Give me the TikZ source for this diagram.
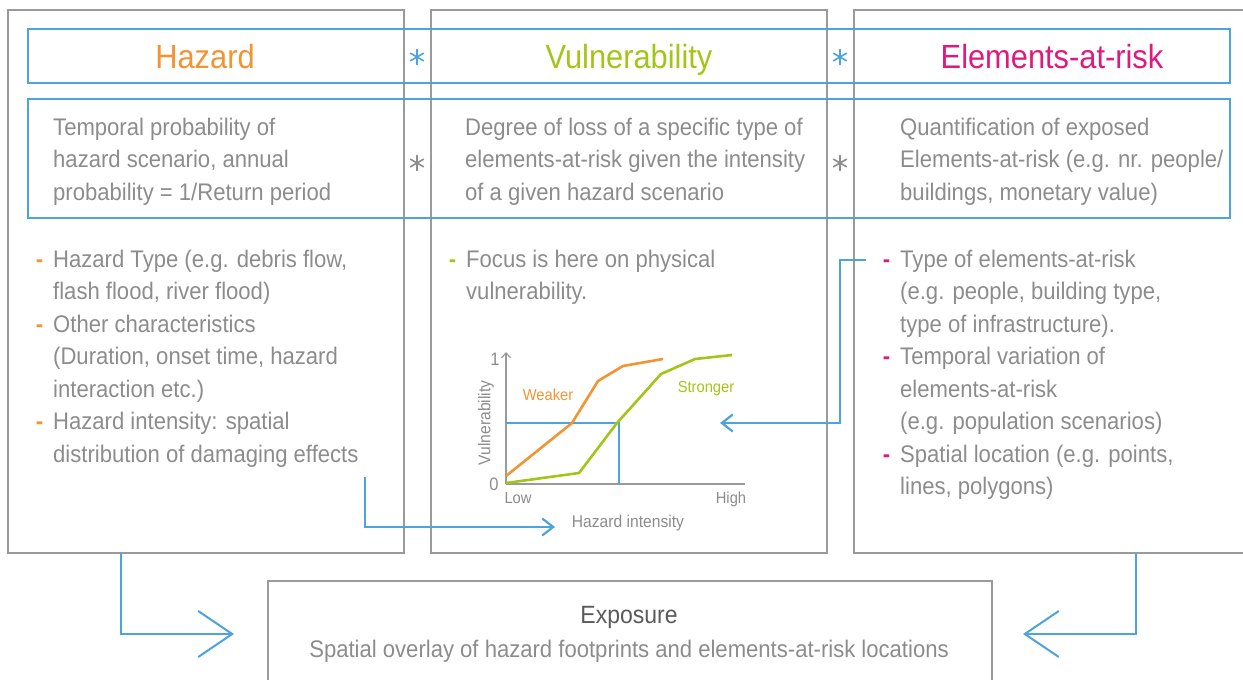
\documentclass[tikz,border=0pt]{standalone}
\usepackage{fontspec}
\setmainfont[FakeStretch=0.92]{Liberation Sans}
\usepackage{tikz}
\usetikzlibrary{arrows.meta}

\definecolor{riskblue}{HTML}{4DA3DC}
\definecolor{hazorange}{HTML}{F39433}
\definecolor{vulgreen}{HTML}{A2C617}
\definecolor{elemmagenta}{HTML}{E0197D}
\definecolor{textgrey}{HTML}{8C8C8C}
\definecolor{linegrey}{HTML}{9A9A9A}
\definecolor{darkgrey}{HTML}{5A5A5A}

\newcommand{\listdash}[1]{\llap{\textcolor{#1}{\bfseries -}\hspace{10pt}}}

\tikzset{
	colbox/.style={draw=linegrey, line width=1.3pt, minimum width=396pt, minimum height=543pt, inner sep=0pt},
	band/.style={draw=riskblue, line width=2.8pt, minimum width=1202pt, inner sep=0pt},
	title/.style={anchor=base, inner sep=0pt, font=\fontsize{33.5}{40}\selectfont},
	bodytext/.style={anchor=base west, align=left, inner sep=0pt, text=textgrey, font=\fontsize{24}{32.5}\selectfont},
	starline/.style={line width=1.6pt, line cap=round},
	charttext/.style={inner sep=0pt, text=textgrey, font=\fontsize{16}{18}\selectfont},
	bluearrow/.style={draw=riskblue, line width=2.5pt, -{Straight Barb[length=11pt, width=17pt, line width=2.2pt]}},
	bigarrow/.style={draw=riskblue, line width=2.8pt, -{Straight Barb[length=34pt, width=46pt, line width=2pt]}}
}

\begin{document}
\begin{tikzpicture}[x=1pt, y=-1pt]
	\useasboundingbox (0,0) rectangle (1243,680);
	\clip (0,0) rectangle (1243,680);

	% Draw the three columns
	\node[colbox] (hazbox) at (206,281.5) {};
	\node[colbox] (vulbox) at (629,281.5) {};
	\node[colbox, minimum width=420pt] (elembox) at (1064,281.5) {};
	%Exposure box
	\node[colbox, minimum width=724pt, minimum height=140pt] (expbox) at (630,651) {};

	% Draw blue bands
	\node[band, minimum height=54pt] (titleband) at (629,56) {};
	\node[band, minimum height=119pt] (descband) at (629,158.5) {};

	% Titles
	\node[title, text=hazorange] (haztitle) at (205,68) {Hazard};
	\node[title, text=vulgreen] (vultitle) at (629,68) {Vulnerability};
	\node[title, text=elemmagenta] (elemtitle) at (1052,68) {Elements-at-risk};

	% Asterisks
	\coordinate (star1) at (417,57);
	\coordinate (star2) at (840,57);
	\coordinate (star3) at (417,163);
	\coordinate (star4) at (840,163);
	\foreach \a in {90,30,150} {
		\draw[starline, riskblue] ([shift={(\a:7.5)}]star1) -- ([shift={(\a+180:7.5)}]star1);
		\draw[starline, riskblue] ([shift={(\a:7.5)}]star2) -- ([shift={(\a+180:7.5)}]star2);
		\draw[starline, textgrey] ([shift={(\a:7.5)}]star3) -- ([shift={(\a+180:7.5)}]star3);
		\draw[starline, textgrey] ([shift={(\a:7.5)}]star4) -- ([shift={(\a+180:7.5)}]star4);
	}

	% Descriptions (anchored at the last line)
	\node[bodytext] (hazdesc) at (53,200) {Temporal probability of\\hazard scenario, annual\\probability = 1/Return period};
	\node[bodytext] (vuldesc) at (465,200) {Degree of loss of a specific type of\\elements-at-risk given the intensity\\of a given hazard scenario};
	\node[bodytext] (elemdesc) at (900,200) {Quantification of exposed\\Elements-at-risk (e.g. nr. people/\\buildings, monetary value)};

	% Lists (anchored at the last line)
	\node[bodytext] (hazlist) at (53,462) {\listdash{hazorange}Hazard Type (e.g. debris flow,\\flash flood, river flood)\\\listdash{hazorange}Other characteristics\\(Duration, onset time, hazard\\interaction etc.)\\\listdash{hazorange}Hazard intensity: spatial\\distribution of damaging effects};
	\node[bodytext] (vullist) at (466,299.5) {\listdash{vulgreen}Focus is here on physical\\vulnerability.};
	\node[bodytext] (elemlist) at (900,494.5) {\listdash{elemmagenta}Type of elements-at-risk\\(e.g. people, building type,\\type of infrastructure).\\\listdash{elemmagenta}Temporal variation of\\elements-at-risk\\(e.g. population scenarios)\\\listdash{elemmagenta}Spatial location (e.g. points,\\lines, polygons)};

	% Vulnerability curves
	%Axes
	\coordinate (origin) at (506,484);
	\draw[linegrey, line width=1.2pt, -{Straight Barb[length=5pt, width=9pt]}] (origin) -- (506,352);
	\draw[linegrey, line width=1.2pt] (origin) -- (745,484);
	%Reading lines
	\draw[riskblue, line width=1.2pt] (506,423) -- (619,423) -- (619,484);
	%Weaker
	\draw[hazorange, line width=2.6pt, line join=round] (506,476) -- (572,423) -- (598,381) -- (623,366) -- (663,359);
	%Stronger
	\draw[vulgreen, line width=2.6pt, line join=round] (506,483) -- (579,473) -- (617,423) -- (661,374) -- (695,359) -- (732,355);
	\node[charttext, text=hazorange] (weaker) at (548,395) {Weaker};
	\node[charttext, text=vulgreen] (stronger) at (706,389) {Stronger};

	%Axes labels
	\node[charttext, anchor=base, font=\fontsize{18}{18}\selectfont] (one) at (495,365) {1};
	\node[charttext, anchor=base, font=\fontsize{18}{18}\selectfont] (zero) at (494,490) {0};
	\node[charttext, anchor=base] (low) at (518,503) {Low};
	\node[charttext, anchor=base] (high) at (731,503) {High};
	\node[charttext, anchor=base, font=\fontsize{17}{18}\selectfont] (hazint) at (628,527) {Hazard intensity};
	\node[charttext, rotate=90, font=\fontsize{17}{18}\selectfont] (vulaxis) at (486,423) {Vulnerability};

	% Connectors
	\coordinate (hazout) at (365,477);
	\coordinate (chartin) at (555,527);
	\draw[bluearrow] (hazout) |- (chartin);
	\coordinate (elemout) at (866,260);
	\coordinate (curvein) at (720,423);
	\draw[bluearrow] (elemout) -- (840,260) |- (curvein);

	% Exposure
	\node[anchor=base, inner sep=0pt, text=darkgrey, font=\fontsize{25}{30}\selectfont] (exptitle) at (629,623) {Exposure};
	\node[anchor=base, inner sep=0pt, text=textgrey, font=\fontsize{24}{30}\selectfont] (exptext) at (629,657) {Spatial overlay of hazard footprints and elements-at-risk locations};
	\coordinate (hazfoot) at (121,553);
	\coordinate (expleft) at (234,634);
	\coordinate (elemfoot) at (1136,553);
	\coordinate (expright) at (1023,634);
	\draw[bigarrow] (hazfoot) |- (expleft);
	\draw[bigarrow] (elemfoot) |- (expright);
\end{tikzpicture}
\end{document}
